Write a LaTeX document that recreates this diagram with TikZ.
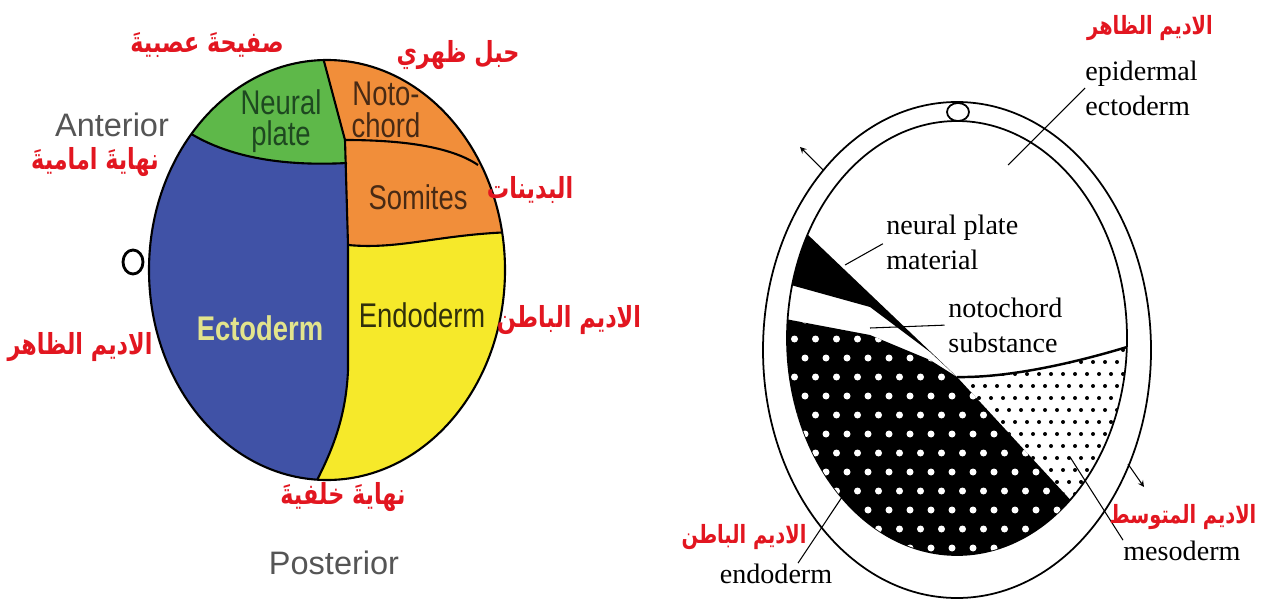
\documentclass[tikz,border=0pt]{standalone}
\usepackage{fontspec}
\setmainfont{Liberation Serif}
\newfontfamily\narrowsans[FakeStretch=0.8]{Liberation Sans}
\newfontfamily\plainsans{Liberation Sans}
\newfontfamily\arabicfont[Script=Arabic, FakeStretch=0.77]{DejaVu Sans}
\TeXXeTstate=1

\definecolor{ectoblue}{RGB}{64,82,166}
\definecolor{endoyellow}{RGB}{246,233,42}
\definecolor{plategreen}{RGB}{94,184,73}
\definecolor{chordorange}{RGB}{241,142,58}
\definecolor{arred}{RGB}{226,22,32}
\definecolor{sidegray}{RGB}{85,85,85}
\definecolor{ectotext}{RGB}{226,228,140}
\definecolor{platetext}{RGB}{30,72,32}
\definecolor{chordtext}{RGB}{72,42,20}
\definecolor{endotext}{RGB}{48,48,12}

\begin{document}
\begin{tikzpicture}[x=0.02cm, y=-0.02cm, >=stealth,
    arlabel/.style={text=arred, inner sep=0pt, font=\arabicfont\bfseries\fontsize{16.5}{20}\selectfont},
    arsmall/.style={arlabel, font=\arabicfont\bfseries\fontsize{14.3}{18}\selectfont},
    sidelabel/.style={text=sidegray, inner sep=0pt, font=\plainsans\fontsize{18.5}{21}\selectfont},
    inlabel/.style={inner sep=0pt, align=center, font=\narrowsans\fontsize{19.5}{18}\selectfont},
    tag/.style={inner sep=0pt, align=left, font=\fontsize{16}{19.8}\selectfont},
    edge/.style={line width=1.2pt},
    leader/.style={line width=0.6pt}]

\useasboundingbox (0,0) rectangle (1266,601);

% ---- left: coloured fate map ----
\begin{scope}
  \clip (327,270) ellipse [x radius=178, y radius=210];
  \fill[ectoblue] (140,50) rectangle (515,490);
  \fill[plategreen] (321,50) -- (345,140) -- (347,163) .. controls (290,166) and (228,160) .. (182,128) -- (140,50) -- cycle;
  \fill[chordorange] (321,50) -- (345,140) -- (348,245) .. controls (400,250) and (440,234) .. (515,232) -- (515,50) -- cycle;
  \fill[endoyellow] (348,245) .. controls (400,250) and (440,234) .. (515,232) -- (515,490) -- (312,490) -- (315,484) .. controls (330,455) and (346,420) .. (348,370) -- cycle;
  \draw[edge] (321,50) -- (345,140) -- (348,245) -- (348,370) .. controls (346,420) and (330,455) .. (315,484);
  \draw[edge] (347,163) .. controls (290,166) and (228,160) .. (182,128);
  \draw[edge] (345,140) .. controls (400,140) and (450,146) .. (478,165);
  \draw[edge] (348,245) .. controls (400,250) and (440,234) .. (515,232);
\end{scope}
\draw[edge] (327,270) ellipse [x radius=178, y radius=210];
\draw[line width=1.6pt, fill=white] (133,262) ellipse [x radius=10, y radius=12];

\node[inlabel, text=platetext] (plate) at (281,121) {Neural\\plate};
\node[inlabel, text=chordtext] (chord) at (386,110) {Noto-\\chord};
\node[inlabel, text=chordtext] (somites) at (418,197) {Somites};
\node[inlabel, text=ectotext, font=\narrowsans\bfseries\fontsize{19.5}{18}\selectfont] (ecto) at (260,328) {Ectoderm};
\node[inlabel, text=endotext] (endo) at (422,315) {Endoderm};

\node[sidelabel] (anterior) at (112,125) {Anterior};
\node[sidelabel] (posterior) at (334,563) {Posterior};

\node[arlabel] (plate-ar) at (207,45) {\beginR صفيحةَ عصبيةَ\endR};
\node[arlabel] (chord-ar) at (458,55) {\beginR حبل ظهري\endR};
\node[arlabel] (anterior-ar) at (95,162) {\beginR نهايةَ اماميةَ\endR};
\node[arlabel] (somites-ar) at (530,190) {\beginR البدينات\endR};
\node[arlabel] (endo-ar) at (569,320) {\beginR الاديم الباطن\endR};
\node[arlabel] (ecto-ar) at (80,347) {\beginR الاديم الظاهر\endR};
\node[arlabel] (posterior-ar) at (343,497) {\beginR نهايةَ خلفيةَ\endR};

% ---- right: layers in section ----
\draw[line width=1pt] (957,350) ellipse [x radius=194, y radius=248];
\draw[line width=1pt] (957,338) ellipse [x radius=170, y radius=217];
\draw[line width=1pt, fill=white] (958,112) ellipse [x radius=11, y radius=9];

\coordinate (meet) at (957,377);
\begin{scope}
  \clip (957,338) ellipse [x radius=170, y radius=217];
  % neural plate band
  \fill (785,213) -- (meet) -- (930,352) -- (870,307) -- (780,282) -- cycle;
  % endoderm: black, white dots
  \begin{scope}
    \clip (780,318) -- (870,335) -- (930,360) -- (meet) -- (1100,532) -- (1100,600) -- (770,600) -- cycle;
    \fill (760,290) rectangle (1110,600);
    \foreach \j in {0,...,14}
      \foreach \i in {0,...,16}
        \fill[white] ({784+21*\i+10.5*mod(\j,2)},{320+19*\j}) circle (3.5);
  \end{scope}
  % mesoderm: white, black dots
  \begin{scope}
    \clip (meet) .. controls (1010,378) and (1080,362) .. (1140,343) -- (1140,600) -- (1100,532) -- cycle;
    \foreach \j in {0,...,18}
      \foreach \i in {0,...,16}
        \fill ({955+12*\i+6*mod(\j,2)},{350+12*\j}) circle (2);
  \end{scope}
  \draw[line width=1.4pt] (meet) .. controls (1010,378) and (1080,362) .. (1140,343);
\end{scope}

\node[tag, anchor=west] (epi-lbl) at (1085,88) {epidermal\\ectoderm};
\node[tag, anchor=west] (np-lbl) at (886,242) {neural plate\\material};
\node[tag, anchor=west] (nc-lbl) at (948,325) {notochord\\substance};
\node[tag, anchor=base] (endo-lbl) at (776,583) {endoderm};
\node[tag, anchor=base west] (meso-lbl) at (1123,560) {mesoderm};

\coordinate (epi-pt) at (1008,165);
\coordinate (np-pt) at (845,265);
\coordinate (nc-pt) at (870,328);
\coordinate (endo-pt) at (858,473);
\coordinate (meso-pt) at (1070,457);
\draw[leader] (epi-pt) -- (epi-lbl.west);
\draw[leader, shorten >=2pt] (np-pt) -- (np-lbl.west);
\draw[leader, shorten >=2pt] (nc-pt) -- (nc-lbl.west);
\draw[leader] (endo-pt) -- (endo-lbl.25);
\draw[leader] (meso-pt) -- (meso-lbl.north west);

\coordinate (turn-a) at (823,170);
\coordinate (turn-b) at (800,147);
\coordinate (turn-c) at (1128,464);
\coordinate (turn-d) at (1144,487);
\draw[leader, ->] (turn-a) -- (turn-b);
\draw[leader, ->] (turn-c) -- (turn-d);

\node[arsmall] (ecto-ar-r) at (1150,28) {\beginR الاديم الظاهر\endR};
\node[arsmall] (endo-ar-r) at (744,537) {\beginR الاديم الباطن\endR};
\node[arsmall] (meso-ar-r) at (1183,517) {\beginR الاديم المتوسط\endR};
\end{tikzpicture}
\end{document}
